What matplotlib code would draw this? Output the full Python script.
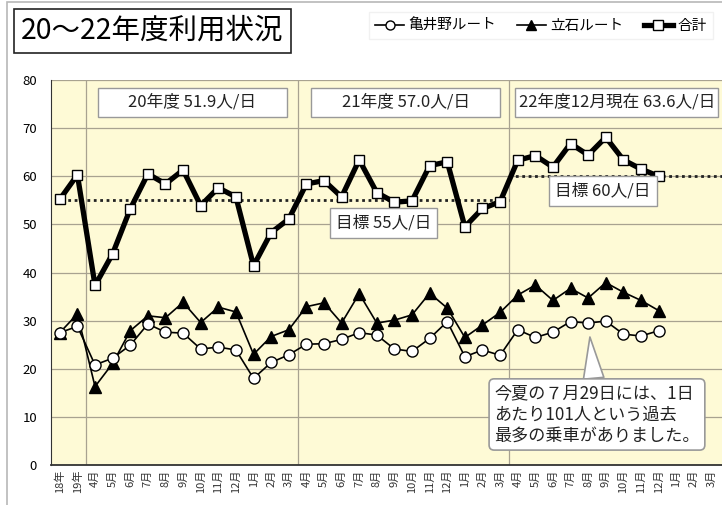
import matplotlib.pyplot as plt
from matplotlib.patches import Rectangle

plt.rcParams['font.family'] = ['Noto Sans CJK JP', 'DejaVu Sans']

# x axis categories: 18年, 19年, then 4月..3月 for 20,21,22年度
months = ["4月", "5月", "6月", "7月", "8月", "9月", "10月", "11月", "12月", "1月", "2月", "3月"]
labels = ["18年", "19年"] + months * 3

# monthly average riders per day
kameino = [27.5, 28.8,
           20.8, 22.2, 24.9, 29.3, 27.6, 27.4, 24.1, 24.5, 23.9, 18.0, 21.3, 22.9,
           25.1, 25.2, 26.1, 27.5, 27.0, 24.1, 23.6, 26.3, 29.8, 22.5, 23.9, 22.8,
           28.1, 26.5, 27.6, 29.8, 29.5, 29.9, 27.2, 26.8, 27.9]
tateishi = [27.5, 31.4,
            16.3, 21.1, 27.9, 31.0, 30.6, 33.8, 29.6, 32.8, 31.8, 23.0, 26.7, 28.1,
            32.9, 33.7, 29.5, 35.6, 29.5, 30.1, 31.2, 35.7, 32.6, 26.5, 29.1, 31.7,
            35.3, 37.4, 34.2, 36.7, 34.7, 37.9, 35.9, 34.2, 32.1]
total = [55.2, 60.3,
         37.3, 43.9, 53.2, 60.5, 58.4, 61.3, 53.9, 57.6, 55.7, 41.4, 48.3, 51.1,
         58.4, 59.1, 55.7, 63.4, 56.6, 54.6, 54.9, 62.2, 63.0, 49.5, 53.3, 54.7,
         63.3, 64.3, 61.9, 66.8, 64.4, 68.1, 63.4, 61.5, 60.0]

target_labels = ["目標 55人/日", "目標 60人/日"]
year_boxes = ["20年度 51.9人/日", "21年度 57.0人/日", "22年度12月現在 63.6人/日"]

x = list(range(len(labels)))
xd = x[:len(total)]

fig = plt.figure(figsize=(7.22, 5.05), dpi=100)
ax = fig.add_axes([51/722, 1 - 465/505, 1 - 51/722, (465 - 80)/505])
ax.set_facecolor('#fefad6')

# outer frame
fig.patches.append(Rectangle((7/722, -0.01), 1.0, 1.006, transform=fig.transFigure,
                             fill=False, edgecolor='#b8b8b8', linewidth=1.2))

ax.set_xlim(-0.5, 37.6)
ax.set_ylim(0, 80)
ax.set_yticks(range(0, 81, 10))
ax.grid(axis='y', color='#a8a290', linewidth=0.9)
ax.set_axisbelow(True)
for xv in [1.5, 13.5, 25.5]:
    ax.axvline(xv, color='#a8a290', linewidth=0.9, zorder=1)

ax.set_xticks(x)
ax.set_xticklabels(labels, rotation=90, fontsize=8, color='#333333')
ax.tick_params(axis='both', length=0)
ax.tick_params(axis='y', labelsize=9.5, pad=10)
for s in ['top', 'right']:
    ax.spines[s].set_visible(False)
ax.spines['left'].set_color('#333333')
ax.spines['bottom'].set_color('#333333')
ax.spines['bottom'].set_linewidth(1.3)

# target lines
ax.plot([-0.3, 25.5], [55, 55], color='#222222', linestyle=(0, (1, 1.3)), linewidth=2, zorder=2)
ax.plot([25.5, 37.6], [60, 60], color='#222222', linestyle=(0, (1, 1.3)), linewidth=2, zorder=2)

ax.plot(xd, total, color='black', linewidth=3.8, marker='s', markersize=7.5,
        markerfacecolor='white', markeredgecolor='black', markeredgewidth=1, zorder=5, label='合計')
ax.plot(xd, tateishi, color='black', linewidth=1.2, marker='^', markersize=8,
        markerfacecolor='black', zorder=4, label='立石ルート')
ax.plot(xd, kameino, color='black', linewidth=1.2, marker='o', markersize=8,
        markerfacecolor='white', markeredgewidth=1, zorder=4, label='亀井野ルート')

# label boxes (x0, x1, y0, y1 in data units)
def label_box(x0, x1, y0, y1, txt, fs):
    ax.add_patch(Rectangle((x0, y0), x1 - x0, y1 - y0, fc='white', ec='#999999', lw=1, zorder=6))
    ax.text((x0 + x1) / 2, (y0 + y1) / 2, txt, ha='center', va='center', fontsize=fs,
            color='#222222', zorder=7)

label_box(2.16, 12.9, 72.3, 78.4, year_boxes[0], 12)
label_box(14.26, 25.0, 72.3, 78.4, year_boxes[1], 12)
label_box(25.85, 37.4, 72.3, 78.4, year_boxes[2], 12)
label_box(15.35, 21.4, 47.2, 53.4, target_labels[0], 12)
label_box(27.8, 33.9, 53.9, 60.1, target_labels[1], 12)

ax.annotate("今夏の７月29日には、1日\nあたり101人という過去\n最多の乗車がありました。",
            xy=(30.1, 26.6), xytext=(30.5, 10.5), ha='center', va='center',
            fontsize=12.3, linespacing=1.25, color='#222222', multialignment='left',
            bbox=dict(boxstyle='round,pad=0.3', fc='white', ec='#999999', lw=1.2),
            arrowprops=dict(arrowstyle='wedge,tail_width=1.2,shrink_factor=0.5', fc='white',
                            ec='#999999', lw=1.2, shrinkA=0, shrinkB=0), zorder=6)

# title
fig.text(21/722, 1 - 31/505, "20～22年度利用状況", fontsize=20.5, va='center', ha='left',
         bbox=dict(boxstyle='square,pad=0.25', fc='white', ec='#222222', lw=1.2))

handles, hl = ax.get_legend_handles_labels()
leg = fig.legend(handles[::-1], hl[::-1], loc='upper right', bbox_to_anchor=(0.998, 0.99), ncol=3,
                 fontsize=10.5, frameon=True, handlelength=2.0, columnspacing=1.4, handletextpad=0.3,
                 borderpad=0.45, fancybox=False)
leg.get_frame().set_edgecolor('#eeeeee')
for h in leg.legend_handles:
    h.set_markersize(6.5)

fig.savefig('out.png', dpi=100)
